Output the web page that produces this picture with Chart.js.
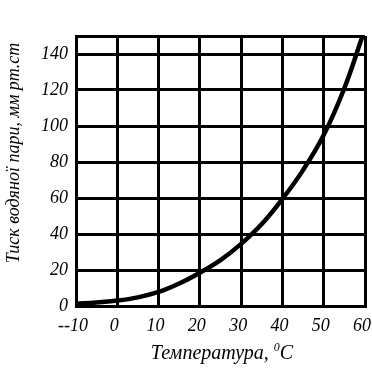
<!DOCTYPE html>
<html>
<head>
<meta charset="utf-8">
<script src="https://cdn.jsdelivr.net/npm/chart.js@4"></script>
<style>
  html, body { margin: 0; padding: 0; background: #fff; }
  #wrap { width: 372px; height: 386px; }
</style>
</head>
<body>
<div id="wrap"><canvas id="chart" width="372" height="386"></canvas></div>
<script>
// values
const temps = [-10, -5, 0, 5, 10, 15, 20, 25, 30, 35, 40, 45, 50, 55, 59.4]
const pressure = [1.2, 2, 3, 4.8, 7.8, 12.5, 18.5, 25.5, 34.5, 45.5, 59.5, 75.5, 95, 121, 150]
const xTicks = [-10, 0, 10, 20, 30, 40, 50, 60]
const yTicks = [0, 20, 40, 60, 80, 100, 120, 140, 150]
const xTitle = ['Температура, ', '0', 'С']
const yTitle = 'Тиск водяної пари, мм рт.ст'

const font = { family: '"Liberation Serif", "Times New Roman", serif', style: 'italic', size: 18 }

const points = temps.map((t, i) => ({ x: t, y: pressure[i] }))

const titles = {
    id: 'titles',
    afterDraw(chart) {
        const ctx = chart.ctx
        ctx.save()
        ctx.fillStyle = '#000'
        ctx.textBaseline = 'alphabetic'
        ctx.textAlign = 'left'
        // x title with small raised 0
        const big = 'italic 20px "Liberation Serif", serif'
        const small = 'italic 12px "Liberation Serif", serif'
        ctx.font = big
        const w1 = ctx.measureText(xTitle[0]).width
        const w3 = ctx.measureText(xTitle[2]).width
        ctx.font = small
        const w2 = ctx.measureText(xTitle[1]).width
        let x = 222 - (w1 + w2 + w3) / 2
        const y = 359
        ctx.font = big
        ctx.fillText(xTitle[0], x, y)
        x += w1
        ctx.font = small
        ctx.fillText(xTitle[1], x, y - 8)
        x += w2
        ctx.font = big
        ctx.fillText(xTitle[2], x, y)
        // y title
        ctx.font = 'italic 18px "Liberation Serif", serif'
        ctx.textAlign = 'center'
        ctx.textBaseline = 'middle'
        ctx.translate(14, 153)
        ctx.rotate(-Math.PI / 2)
        ctx.fillText(yTitle, 0, 0)
        ctx.restore()
    }
}

new Chart(document.getElementById('chart'), {
    type: 'line',
    data: {
        datasets: [{
            data: points,
            borderColor: '#000',
            borderWidth: 4.5,
            pointRadius: 0,
            tension: 0.4,
            fill: false
        }]
    },
    options: {
        responsive: false,
        animation: false,
        layout: { padding: { left: 0, right: 7, top: 36, bottom: 0 } },
        plugins: { legend: { display: false }, tooltip: { enabled: false } },
        scales: {
            x: {
                type: 'linear',
                min: -10,
                max: 60,
                afterBuildTicks: s => { s.ticks = xTicks.map(v => ({ value: v })) },
                afterFit: s => { s.height = 80; s.paddingLeft = 0; s.paddingRight = 0 },
                ticks: {
                    color: '#000',
                    font: font,
                    padding: 9,
                    labelOffset: -3,
                    maxRotation: 0,
                    autoSkip: false,
                    callback: v => v == -10 ? '--10' : String(v)
                },
                grid: { color: '#000', lineWidth: 3, drawTicks: false },
                border: { color: '#000', width: 3 }
            },
            y: {
                min: 0,
                max: 150,
                afterBuildTicks: s => { s.ticks = yTicks.map(v => ({ value: v })) },
                afterFit: s => { s.width = 76 },
                ticks: {
                    color: '#000',
                    font: font,
                    padding: 8,
                    autoSkip: false,
                    callback: v => v == 150 ? '' : String(v)
                },
                grid: { color: '#000', lineWidth: 3, drawTicks: false },
                border: { color: '#000', width: 3 }
            }
        }
    },
    plugins: [titles]
})
</script>
</body>
</html>
